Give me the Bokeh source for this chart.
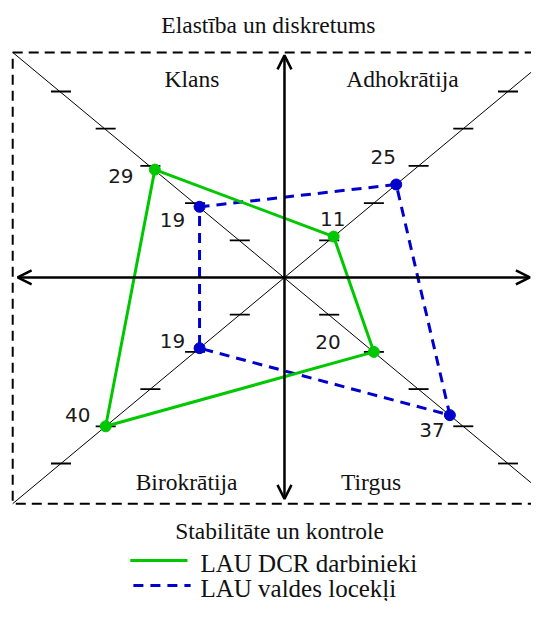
from bokeh.plotting import figure
from bokeh.models import Range1d, Arrow, OpenHead
from bokeh.embed import file_html
from bokeh.resources import INLINE
from bokeh.core.properties import value

# ---------------- data ----------------
quadrants = ["Klans", "Adhokrātija", "Tirgus", "Birokrātija"]
dir_x = [-1, 1, 1, -1]          # diagonal direction of each quadrant
dir_y = [1, 1, -1, -1]
series1_name = "LAU DCR darbinieki"
series1 = [29, 11, 20, 40]
series2_name = "LAU valdes locekļi"
series2 = [19, 25, 37, 19]
tick_values = [10, 20, 30, 40, 50]
top_label = "Elastība un diskretums"
bottom_label = "Stabilitāte un kontrole"

# ---------------- styling / layout ----------------
GREEN = "#00c800"
BLUE = "#0000cc"
SERIF = "Liberation Serif"
BOX = 60.8
s1_off_x = [-34, -1, -46, -28]
s1_off_y = [6, -18, -10, -11]
s2_off_x = [-27, -13, -18, -27]
s2_off_y = [13, -27, 15, -7]

p = figure(width=531, height=601, x_range=Range1d(-63.53, 55.26),
           y_range=Range1d(-87.10, 74.46), output_backend="svg",
           toolbar_location=None, min_border=0,
           x_axis_location=None, y_axis_location=None)
p.grid.visible = False
p.outline_line_color = None
p.background_fill_color = "white"

# dashed frame
p.line([-BOX, 62, 62, -BOX, -BOX], [BOX - 0.3, BOX - 0.3, -BOX, -BOX, BOX - 0.3],
       line_color="black", line_width=2, line_dash="10 6")

# diagonals
p.line([-BOX, BOX], [BOX - 0.3, -BOX], line_color="black", line_width=1)
p.line([-BOX, BOX], [-BOX, BOX], line_color="black", line_width=1)

# tick marks on each diagonal half
tx0, tx1, ty = [], [], []
for i in range(4):
    for t in tick_values:
        tx0.append(dir_x[i] * t - 2.24)
        tx1.append(dir_x[i] * t + 2.24)
        ty.append(dir_y[i] * t)
p.segment(tx0, ty, tx1, ty, line_color="black", line_width=1.8)

# main axes arrows
for xs, ys, xe, ye in [(-59.7, 0, 54.9, 0), (0, 59.7, 0, -59.5)]:
    p.add_layout(Arrow(x_start=xs, y_start=ys, x_end=xe, y_end=ye,
                       line_width=2.5, line_color="black",
                       start=OpenHead(size=14, line_width=2.5, line_color="black"),
                       end=OpenHead(size=14, line_width=2.5, line_color="black")))

# series
def coords(vals):
    xs = [dir_x[i] * v for i, v in enumerate(vals)]
    ys = [dir_y[i] * v for i, v in enumerate(vals)]
    return xs, ys

x1, y1 = coords(series1)
x2, y2 = coords(series2)
p.line(x2 + x2[:1], y2 + y2[:1], line_color=BLUE, line_width=3, line_dash="10 7")
p.line(x1 + x1[:1], y1 + y1[:1], line_color=GREEN, line_width=3)
p.scatter(x2, y2, size=11, color=BLUE)
p.scatter(x1, y1, size=11, color=GREEN)

num_font = value("DejaVu Sans")
p.text(x1, y1, text=[str(v) for v in series1], x_offset=s1_off_x, y_offset=s1_off_y,
       text_align="center", text_baseline="middle", text_font=num_font,
       text_font_size="20px", text_color="#1a1a1a")
p.text(x2, y2, text=[str(v) for v in series2], x_offset=s2_off_x, y_offset=s2_off_y,
       text_align="center", text_baseline="middle", text_font=num_font,
       text_font_size="20px", text_color="#1a1a1a")

# quadrant names
p.text([-20.7, 26.4, 19.35, -21.9], [53.25, 53.25, -54.85, -54.85], text=quadrants,
       text_align="center", text_baseline="alphabetic", text_font=value(SERIF),
       text_font_size="23.5px", text_color="#111111")

# axis titles
p.text([-3.6, -1.1], [67.75, -68.05], text=[top_label, bottom_label],
       text_align="center", text_baseline="alphabetic", text_font=value(SERIF),
       text_font_size="23.5px", text_color="#111111")

# legend
p.segment([-34.5], [-76.1], [-21.7], [-76.1], line_color=GREEN, line_width=3)
p.segment([-33.8], [-82.8], [-21.0], [-82.8], line_color=BLUE, line_width=3, line_dash="10 7")
p.text([-18.8, -18.8], [-76.9, -83.6], text=[series1_name, series2_name],
       text_align="left", text_baseline="alphabetic", text_font=value(SERIF),
       text_font_size="25px", text_color="#111111")

open("out.html", "w").write(file_html(p, INLINE))
